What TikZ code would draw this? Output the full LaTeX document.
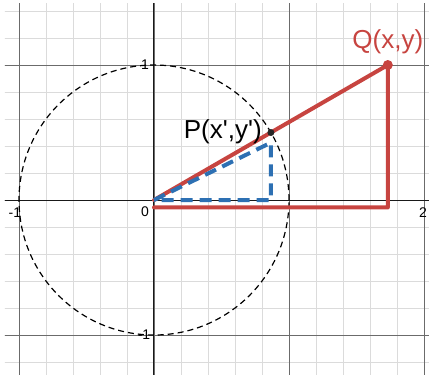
\documentclass[tikz,border=0pt]{standalone}
\usepackage{fontspec}
\setmainfont{Liberation Sans}
\newfontfamily\labelfont{Liberation Sans}
\usetikzlibrary{positioning}
\definecolor{desred}{RGB}{199,68,64}
\definecolor{desblue}{RGB}{45,112,179}
\tikzset{
  minorgrid/.style={draw=black!14, line width=0.8pt},
  majorgrid/.style={draw=black!58, line width=0.9pt},
  axisline/.style={draw=black!90, line width=1pt},
  unitcircle/.style={draw=black, line width=1.2pt, dash pattern=on 6pt off 4pt},
  redside/.style={draw=desred, line width=4pt, line cap=round, line join=round},
  blueside/.style={draw=desblue, line width=4pt, dash pattern=on 12pt off 7pt, line join=round},
  ticklabel/.style={inner sep=0pt, font=\fontsize{14}{16}\selectfont},
  ptlabel/.style={inner sep=0pt, font=\labelfont\fontsize{26}{30}\selectfont}
}
\begin{document}
\begin{tikzpicture}[x=135pt,y=135pt]
\useasboundingbox (-1.1407,-1.2889) rectangle (2.037,1.4815);
% grid
\begin{scope}
\clip (-1.104,-1.2889) rectangle (2.037,1.452);
\draw[minorgrid] (-1.2,-1.4) grid[step=0.2] (2.2,1.6);
\draw[majorgrid] (-1.2,-1.4) grid[step=1] (2.2,1.6);
\draw[axisline] (-1.2,0) -- (2.2,0);
\draw[axisline] (0,-1.4) -- (0,1.6);
\end{scope}
% points
\coordinate (O) at (0,0);
\coordinate (P) at (0.866,0.5);
\coordinate (Q) at (1.732,1);
\coordinate (Papex) at (0.866,0.425);
\coordinate (Pfoot) at (0.866,0);
\coordinate (Qfoot) at (1.732,-0.055);
\coordinate (Obase) at (0,-0.055);
% unit circle
\draw[unitcircle] (O) circle [radius=1];
% tick labels
\node[ticklabel] (t0) at (-0.067,-0.089) {0};
\node[ticklabel] (ty1) at (-0.067,1) {1};
\node[ticklabel] (tym1) at (-0.074,-1) {-1};
\node[ticklabel] (tx2) at (1.993,-0.096) {2};
\node[ticklabel] (txm1) at (-1.03,-0.096) {-1};
% triangles
\draw[redside] (O) -- (Q) -- (Qfoot) -- (Obase);
\draw[blueside] (O) -- (Papex) -- (Pfoot) -- cycle;
\fill[desred] (Q) circle [radius=5pt];
\fill[black!85] (P) circle [radius=3.5pt];
% labels
\node[ptlabel, text=desred, above=11pt of Q] (qlabel) {Q(x,y)};
\node[ptlabel, left=9pt of P, yshift=1pt] (plabel) {P(x',y')};
\end{tikzpicture}
\end{document}
